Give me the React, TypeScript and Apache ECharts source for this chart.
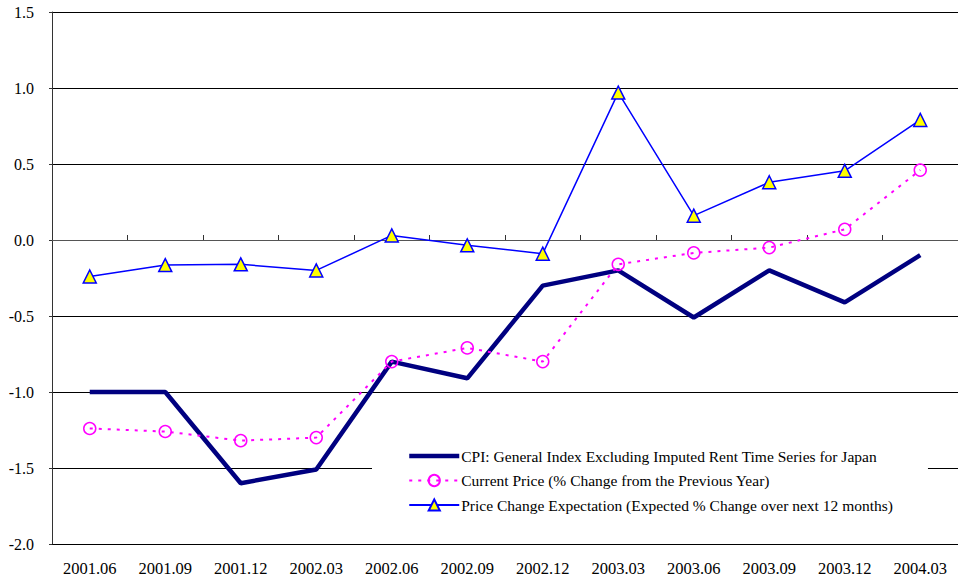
import React, { useEffect, useRef } from "react";
import * as echarts from "echarts";

const categories = ["2001.06", "2001.09", "2001.12", "2002.03", "2002.06", "2002.09", "2002.12", "2003.03", "2003.06", "2003.09", "2003.12", "2004.03"];
const cpiValues = [-1.0, -1.0, -1.6, -1.51, -0.8, -0.91, -0.3, -0.2, -0.51, -0.2, -0.41, -0.1];
const currentPrice = [-1.24, -1.26, -1.32, -1.3, -0.8, -0.71, -0.8, -0.16, -0.085, -0.05, 0.07, 0.46];
const expectation = [-0.24, -0.165, -0.16, -0.2, 0.03, -0.035, -0.09, 0.97, 0.16, 0.38, 0.455, 0.79];
const seriesNames = [
  "CPI: General Index Excluding Imputed Rent Time Series for Japan",
  "Current Price (% Change from the Previous Year)",
  "Price Change Expectation (Expected % Change over next 12 months)",
];

const FONT = "'Liberation Serif', 'Times New Roman', serif";

export default function App() {
  const ref = useRef<HTMLDivElement>(null);
  useEffect(() => {
    if (!ref.current) return;
    const chart = echarts.init(ref.current, null, { renderer: "svg" });
    chart.setOption({
      animation: false,
      backgroundColor: "#fff",
      textStyle: { fontFamily: FONT },
      grid: { left: 52, right: 0, top: 12, bottom: 38, containLabel: false },
      legend: {
        orient: "vertical",
        left: 372,
        top: 443,
        backgroundColor: "#fff",
        padding: [5, 35, 5, 35],
        itemGap: 8.5,
        itemWidth: 50,
        itemHeight: 14,
        textStyle: { fontFamily: FONT, fontSize: 15.5, color: "#000", padding: [0, 0, 0, -3] },
        data: [
          { name: seriesNames[0], itemStyle: { opacity: 0 }, lineStyle: { width: 4.5 } },
          { name: seriesNames[1] },
          { name: seriesNames[2] },
        ],
      },
      xAxis: [
        {
          type: "category",
          data: categories,
          boundaryGap: true,
          axisLine: { onZero: true, lineStyle: { color: "#555", width: 1 } },
          axisTick: { show: true, inside: true, length: 5, lineStyle: { color: "#333" } },
          axisLabel: { show: false },
          splitLine: { show: false },
        },
        {
          type: "category",
          data: categories,
          position: "bottom",
          boundaryGap: true,
          axisLine: { show: false, onZero: false },
          axisTick: { show: false },
          axisLabel: { show: true, fontFamily: FONT, fontSize: 16.5, color: "#000", margin: 16 },
          splitLine: { show: false },
        },
      ],
      yAxis: {
        type: "value",
        min: -2,
        max: 1.5,
        interval: 0.5,
        axisLine: { show: true, lineStyle: { color: "#333", width: 1 } },
        axisTick: { show: true, length: 3, lineStyle: { color: "#333" } },
        axisLabel: {
          fontFamily: FONT,
          fontSize: 16,
          color: "#000",
          margin: 18,
          formatter: (v: number) => v.toFixed(1),
        },
        splitLine: { show: true, lineStyle: { color: "#000", width: 1 } },
      },
      series: [
        {
          name: seriesNames[0],
          type: "line",
          xAxisIndex: 0,
          data: cpiValues,
          symbol: "none",
          lineStyle: { color: "#000080", width: 4.5 },
          itemStyle: { color: "#000080" },
          z: 3,
        },
        {
          name: seriesNames[1],
          type: "line",
          xAxisIndex: 0,
          data: currentPrice,
          symbol: "circle",
          symbolSize: 12,
          lineStyle: { color: "#ff00ff", width: 2, type: [3, 6] },
          itemStyle: { color: "rgba(255,255,255,0)", borderColor: "#ff00ff", borderWidth: 1.5 },
          z: 4,
        },
        {
          name: seriesNames[2],
          type: "line",
          xAxisIndex: 0,
          data: expectation,
          symbol: "triangle",
          symbolSize: 13,
          lineStyle: { color: "#0000ff", width: 1.5 },
          itemStyle: { color: "#ffff00", borderColor: "#0000ff", borderWidth: 1.5 },
          z: 5,
        },
      ],
    });
    return () => chart.dispose();
  }, []);
  return <div ref={ref} style={{ width: 958, height: 582, position: "absolute", left: 0, top: 0 }} />;
}
